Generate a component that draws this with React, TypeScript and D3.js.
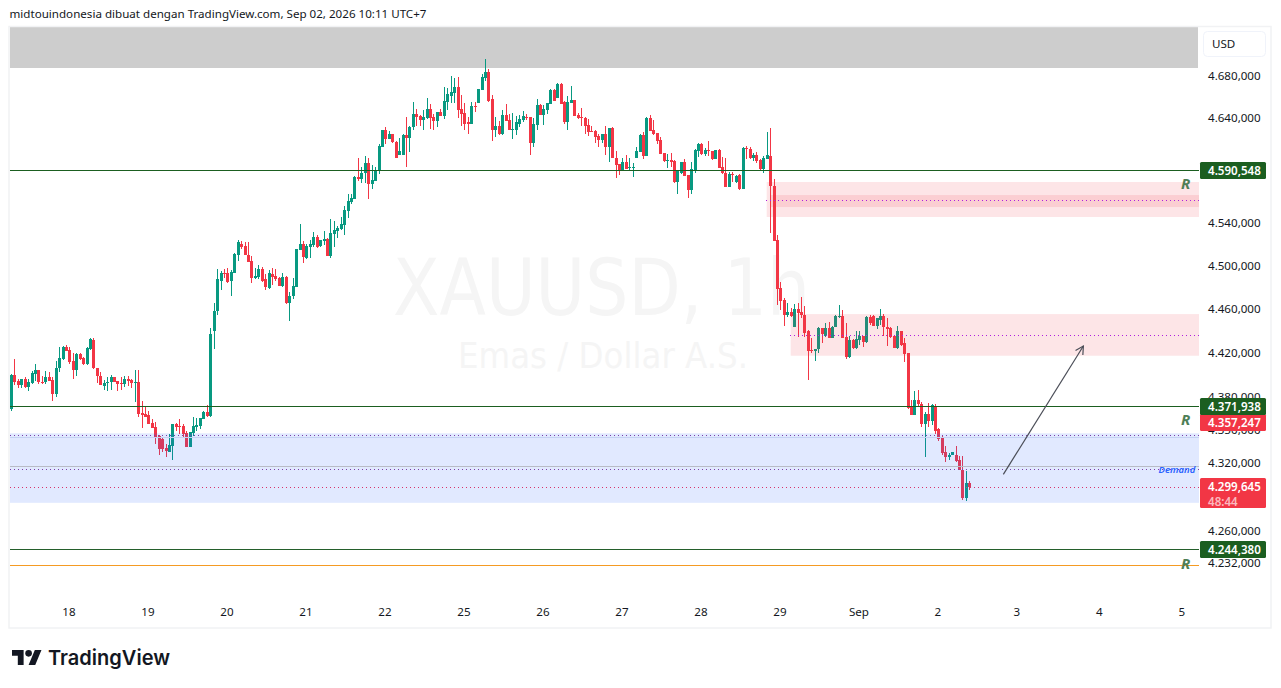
import { useEffect, useRef } from "react";
import * as d3 from "d3";

const WIDTH = 1281;
const HEIGHT = 688;
const UI_FONT = "'Noto Sans', sans-serif";

// Hourly XAUUSD candles
const opens = [
  4369, 4400, 4395, 4391, 4397, 4389, 4393, 4401, 4405, 4394,
  4394, 4398, 4396, 4383, 4407, 4415, 4426, 4423, 4413, 4405,
  4419, 4416, 4410, 4424, 4432, 4407, 4399, 4390, 4393, 4394,
  4398, 4394.5, 4393, 4392, 4397, 4396, 4393, 4394, 4366, 4365,
  4364, 4357, 4353, 4345, 4342, 4334, 4331, 4336, 4356, 4354,
  4354, 4348, 4335, 4348, 4353, 4354, 4360, 4367, 4363, 4440,
  4459, 4487, 4494, 4494, 4487, 4494, 4511, 4521, 4519, 4511,
  4505, 4489, 4490, 4498, 4488, 4480, 4493, 4491, 4489, 4482,
  4490, 4466, 4473, 4481, 4515, 4521, 4508, 4518, 4520, 4528,
  4519, 4524, 4526, 4510, 4530, 4533, 4535, 4539, 4552, 4560,
  4563, 4584, 4582, 4588, 4597, 4577, 4580, 4590, 4613, 4629,
  4620, 4625, 4617, 4605, 4605, 4624, 4621, 4632, 4644, 4642,
  4638, 4640, 4649, 4641, 4637, 4646, 4642, 4656, 4661, 4664,
  4670, 4649, 4645, 4636, 4635, 4652, 4655, 4667, 4679, 4685,
  4659, 4629, 4633, 4625, 4643, 4638, 4629.6, 4629, 4635, 4638,
  4641, 4641, 4616, 4634, 4653, 4643, 4648, 4654, 4667, 4660,
  4673, 4656, 4636, 4655, 4658, 4643, 4641, 4640, 4634, 4628,
  4628, 4623, 4619, 4625, 4613, 4631, 4602, 4596, 4590, 4598,
  4593, 4593, 4602, 4608, 4624, 4604, 4640, 4629, 4625.5, 4619,
  4607, 4599, 4600, 4599, 4579, 4588, 4598, 4586, 4572, 4590,
  4609, 4615, 4606, 4610, 4609, 4601, 4610, 4594, 4588, 4575,
  4587, 4579, 4586, 4573, 4612, 4611, 4602, 4605, 4600, 4592,
  4601, 4604, 4576, 4524.5, 4480, 4469, 4455, 4458, 4444.5, 4461,
  4458, 4455.5, 4440, 4423, 4422, 4424, 4443, 4436, 4443, 4434,
  4444, 4453, 4454.5, 4435, 4417, 4432, 4425, 4432, 4436, 4430,
  4453, 4454, 4445, 4451, 4454, 4444.5, 4443, 4436, 4425, 4440,
  4429, 4420, 4371, 4364, 4378, 4374, 4355.5, 4365, 4359, 4372.5,
  4351, 4343, 4331, 4326, 4328.5, 4328.5, 4324, 4315, 4290, 4303,
];
const highs = [
  4401, 4415, 4397, 4397, 4398, 4397, 4404, 4410, 4405, 4399,
  4404, 4403, 4398, 4413, 4426, 4427, 4428, 4426, 4420, 4420,
  4420, 4417, 4426, 4434, 4434, 4407, 4403, 4396, 4398, 4400,
  4398, 4395, 4398, 4399, 4399, 4397, 4405, 4405, 4377, 4372,
  4368, 4360, 4358, 4346, 4344, 4338, 4347, 4356, 4357, 4360,
  4356, 4350, 4349, 4362, 4361, 4361, 4368, 4373, 4443, 4466,
  4498, 4496, 4498, 4499, 4497, 4513, 4525, 4524, 4523, 4523,
  4510, 4499, 4501, 4500, 4493, 4497, 4499, 4498, 4490, 4494,
  4491, 4476, 4489, 4516, 4540, 4524, 4521, 4525, 4532, 4529,
  4525, 4533, 4527, 4544, 4543, 4538, 4546, 4557, 4568, 4568,
  4585, 4602, 4594, 4604, 4602, 4595, 4594, 4615, 4629, 4632,
  4628, 4625, 4618, 4621, 4625, 4641, 4633, 4656, 4649, 4643,
  4648, 4660, 4654, 4644, 4646, 4649, 4670, 4669, 4681, 4679,
  4680, 4662, 4655, 4641, 4656, 4656, 4668, 4683, 4697, 4688,
  4662, 4641, 4637, 4648, 4654, 4644, 4645, 4642, 4643, 4647,
  4644, 4641, 4640, 4659, 4654, 4653, 4655, 4668, 4668, 4674,
  4674, 4657, 4661, 4671, 4658, 4645, 4650, 4641, 4639, 4633,
  4629, 4625, 4625, 4633, 4631, 4632, 4609, 4596, 4602, 4605,
  4602, 4597, 4613, 4625, 4627, 4641, 4643, 4638, 4626, 4622,
  4607, 4606, 4607, 4600, 4590, 4598, 4601, 4586, 4598, 4611,
  4616, 4616, 4612, 4618, 4609, 4610, 4611, 4603, 4602, 4589,
  4589, 4586, 4587, 4613, 4614, 4613, 4607, 4608, 4601, 4604,
  4627, 4631, 4582.5, 4529, 4486, 4471, 4466, 4462, 4465, 4466,
  4472, 4463, 4441, 4434, 4424, 4444, 4443, 4448, 4449, 4445,
  4455, 4464, 4460, 4448, 4436, 4433, 4440, 4440, 4436, 4454,
  4455, 4455, 4452, 4461, 4456, 4452, 4444, 4436, 4445, 4440,
  4434, 4420, 4378, 4386, 4387, 4376, 4367, 4375, 4374, 4374,
  4352, 4345, 4336, 4330, 4331, 4336, 4327, 4327, 4314, 4304.5,
];
const lows = [
  4368, 4391, 4388, 4388, 4388, 4386, 4392, 4395, 4392, 4392,
  4392, 4395, 4377, 4380, 4403, 4414, 4422, 4410, 4397, 4399,
  4414, 4409, 4409, 4423, 4406, 4393, 4391, 4387, 4386, 4387,
  4394, 4386, 4387, 4389, 4390, 4388, 4376, 4362, 4352, 4362,
  4356, 4352, 4338, 4328, 4331, 4326, 4331, 4324, 4350, 4347,
  4343, 4335, 4335, 4345, 4350, 4351, 4360, 4362, 4362, 4424,
  4455, 4478, 4489, 4485, 4473, 4494, 4505, 4516, 4511, 4504,
  4485, 4488, 4488, 4486, 4478, 4479, 4483, 4487, 4482, 4481,
  4465, 4450, 4470, 4481, 4515, 4503, 4507, 4508, 4518, 4517,
  4518, 4520, 4510, 4508, 4518, 4527, 4534, 4529, 4545, 4559,
  4563, 4580, 4578, 4578, 4563, 4573, 4580, 4587, 4613, 4615,
  4620, 4616, 4602, 4605, 4605, 4594, 4608, 4629, 4633, 4633,
  4629, 4639, 4630, 4629, 4632, 4642, 4639, 4648, 4655, 4655,
  4640, 4633, 4629, 4625, 4635, 4646, 4655, 4667, 4676, 4656,
  4618, 4622, 4624, 4624, 4637, 4629, 4620, 4624, 4632, 4636,
  4638, 4605, 4613, 4629, 4643, 4634, 4644, 4654, 4657, 4660,
  4654, 4635, 4629, 4655, 4642, 4639, 4633, 4625, 4623, 4627,
  4616, 4613, 4616, 4605, 4598, 4602, 4583, 4586, 4590, 4592,
  4590, 4584, 4602, 4608, 4601, 4604, 4628, 4624, 4615, 4606,
  4598, 4593, 4594, 4578, 4568, 4587, 4585, 4564, 4568, 4588,
  4603, 4605, 4604, 4604, 4600, 4601, 4593, 4587, 4575, 4575,
  4579, 4578, 4572, 4573, 4601, 4601, 4599, 4597, 4591, 4588,
  4601, 4531, 4524, 4464, 4460, 4445, 4453, 4453, 4444.5, 4435,
  4452, 4435, 4396, 4420, 4413, 4420, 4429, 4435, 4434, 4434,
  4444, 4452, 4434, 4415, 4416, 4424, 4424, 4428, 4426, 4429,
  4446, 4445, 4442, 4446, 4436, 4427, 4434, 4425, 4424, 4427,
  4412, 4369, 4364, 4364, 4372, 4353, 4326, 4353, 4355, 4347,
  4341, 4328, 4322, 4324, 4328.5, 4322, 4315, 4288, 4287, 4297,
];
const closes = [
  4400, 4394, 4391, 4397, 4389, 4394, 4402, 4405, 4394, 4393.4,
  4398, 4395, 4383, 4407, 4416, 4426, 4422, 4412, 4405, 4419,
  4415, 4410, 4425, 4433, 4407, 4399, 4391, 4393, 4394, 4398,
  4394, 4392, 4392, 4397, 4395, 4393, 4394, 4365, 4364, 4362,
  4356, 4352, 4344, 4333, 4333, 4332, 4337, 4356, 4353, 4353,
  4347, 4335, 4349, 4354, 4355, 4361, 4367, 4363, 4438, 4459,
  4488, 4494, 4493, 4486, 4495, 4512, 4523, 4518, 4511, 4504,
  4489, 4491, 4498, 4487, 4481, 4494, 4490, 4488, 4482, 4490,
  4466, 4473, 4482, 4516, 4521, 4509, 4519, 4521, 4528, 4518,
  4525, 4526, 4510, 4531, 4534, 4536, 4540, 4553, 4561, 4564,
  4584, 4582, 4588, 4597, 4577, 4581, 4591, 4614, 4629, 4620,
  4625, 4617, 4602, 4609, 4624, 4621, 4632, 4644, 4641, 4638,
  4641, 4649, 4640, 4637, 4646, 4642, 4657, 4663, 4665, 4670,
  4648, 4644, 4635, 4635, 4652, 4651, 4668, 4680, 4685, 4657,
  4629, 4633, 4625, 4643, 4637, 4629, 4630, 4636, 4639, 4642,
  4640, 4616, 4635, 4653, 4643, 4649, 4655, 4667, 4657, 4673,
  4654, 4636, 4656, 4658, 4642, 4640, 4640, 4633, 4627, 4627,
  4622, 4619, 4625, 4613, 4631, 4602, 4595, 4590, 4598, 4592,
  4594, 4594, 4609, 4624, 4604, 4640, 4628, 4625, 4618, 4606,
  4599, 4600, 4598, 4579, 4590, 4598, 4585, 4572, 4592, 4610,
  4615, 4606, 4610, 4609, 4601, 4610, 4593, 4588, 4575, 4587,
  4586, 4585, 4573, 4612, 4611, 4602, 4605, 4599, 4592, 4602,
  4605, 4576, 4524, 4479, 4468, 4455, 4458, 4454, 4461, 4457,
  4455, 4439, 4422, 4422, 4424, 4443, 4438, 4443, 4434, 4444,
  4454, 4454.5, 4434, 4417, 4432, 4425, 4433, 4436, 4430, 4453,
  4448, 4445, 4452, 4454, 4444, 4442, 4435, 4425, 4440, 4428,
  4419, 4370, 4364, 4378, 4373.5, 4355.5, 4365, 4359, 4373, 4350,
  4342, 4330, 4326, 4328, 4331, 4323, 4315, 4290, 4303, 4299.6,
];

// Axis ticks
const priceTicks = [4680, 4640, 4540, 4500, 4460, 4420, 4380, 4350, 4320, 4260, 4232];
const dayBars = [17, 40, 63, 86, 109, 132, 155, 178, 201, 224, 247, 270, 293, 317, 341];
const dayLabels = ["18", "19", "20", "21", "22", "25", "26", "27", "28", "29", "Sep", "2", "3", "4", "5"];

// Levels and drawings, in price / bar units
const levels = [4590.548, 4371.938, 4244.38];
const orangeLevel = 4230.4;
const lastPrice = 4299.645;
const bidPrice = 4357.247;
const rBaselines = [4572.7, 4355, 4227.7];
const zoneBars = [220, 221, 227];
const upperZone = [4579.3, 4546.3];
const upperZoneCore = [4567, 4555.7];
const upperZoneMid = 4561.9;
const lowerZone = [4456, 4417.8];
const lowerZoneMid = 4437.2;
const demandZone = [4347.5, 4285.5];
const demandEdges = [4344.1, 4318.5];
const demandMids = [4345.6, 4315.6];
const arrowBars = [288.9, 312.2];
const arrowPrices = [4310.8, 4426.7];

const GREEN = "#089981";
const RED = "#f23645";
const LEVEL_GREEN = "#1b5e20";
const PLOT_LEFT = 10;
const PLOT_RIGHT = 1199;

const App: React.FC = () => {
  const svgRef = useRef<SVGSVGElement | null>(null);

  useEffect(() => {
    if (!svgRef.current) return;
    const svg = d3.select(svgRef.current);
    svg.selectAll("*").remove();

    const x = d3.scaleLinear().domain([0, 341]).range([11, 1182.3]);
    const y = d3.scaleLog().domain([4680, 4232]).range([76.8, 563.6]);
    const snap = (v: number) => Math.round(v) + 0.5;
    const priceText = (v: number) =>
      d3.format(",.3f")(v).replace(/[,.]/g, (c) => (c === "," ? "." : ","));

    svg.append("clipPath").attr("id", "plot")
      .append("rect").attr("x", PLOT_LEFT).attr("y", 27)
      .attr("width", PLOT_RIGHT - PLOT_LEFT).attr("height", 600);

    svg.append("rect").attr("width", WIDTH).attr("height", HEIGHT).attr("fill", "#fff");

    // Title
    svg.append("text").attr("x", 9.5).attr("y", 18)
      .attr("font-family", UI_FONT).attr("font-size", 11.6).attr("fill", "#131722")
      .text("midtouindonesia dibuat dengan TradingView.com, Sep 02, 2026 10:11 UTC+7");

    // Grey band on top of the pane
    svg.append("rect").attr("x", PLOT_LEFT).attr("y", 27)
      .attr("width", PLOT_RIGHT - PLOT_LEFT - 1).attr("height", 41).attr("fill", "#cdcdcd");

    // Watermark
    svg.append("text").attr("x", 393).attr("y", 315)
      .attr("font-family", "'DejaVu Sans', sans-serif").attr("font-size", 78).attr("fill", "#f5f5f5")
      .attr("textLength", 417).attr("lengthAdjust", "spacingAndGlyphs")
      .text("XAUUSD, 1h");
    svg.append("text").attr("x", 458).attr("y", 368)
      .attr("font-family", "'DejaVu Sans', sans-serif").attr("font-size", 35).attr("fill", "#f5f5f5")
      .attr("textLength", 290).attr("lengthAdjust", "spacingAndGlyphs")
      .text("Emas / Dollar A.S.");

    // Candles
    const plot = svg.append("g").attr("clip-path", "url(#plot)");
    const bars = d3.range(opens.length);
    const colour = (i: number) => (closes[i] >= opens[i] ? GREEN : RED);

    plot.selectAll(".wick").data(bars).enter().append("rect")
      .attr("class", "wick")
      .attr("x", (i) => Math.round(x(i)))
      .attr("y", (i) => y(highs[i]))
      .attr("width", 1)
      .attr("height", (i) => y(lows[i]) - y(highs[i]))
      .attr("fill", colour)
      .attr("shape-rendering", "crispEdges");

    plot.selectAll(".body").data(bars).enter().append("rect")
      .attr("class", "body")
      .attr("x", (i) => Math.round(x(i)) - 1)
      .attr("y", (i) => y(Math.max(opens[i], closes[i])))
      .attr("width", 3)
      .attr("height", (i) => Math.max(1, Math.abs(y(opens[i]) - y(closes[i]))))
      .attr("fill", colour)
      .attr("shape-rendering", "crispEdges");

    // Zones sit over the candles
    const zone = (x0: number, prices: number[], fill: string) =>
      plot.append("rect").attr("x", x0).attr("y", y(prices[0]))
        .attr("width", PLOT_RIGHT - x0).attr("height", y(prices[1]) - y(prices[0]))
        .attr("fill", fill);
    const pink = "rgba(242,54,69,0.13)";
    zone(x(zoneBars[0]), upperZone, pink);
    zone(x(zoneBars[1]), upperZoneCore, pink);
    zone(x(zoneBars[2]), lowerZone, pink);
    zone(PLOT_LEFT, demandZone, "rgba(41,98,255,0.14)");

    const hline = (x0: number, price: number, stroke: string, dash?: string) => {
      const line = plot.append("line")
        .attr("x1", Math.round(x0)).attr("x2", PLOT_RIGHT)
        .attr("y1", snap(y(price))).attr("y2", snap(y(price)))
        .attr("stroke", stroke).attr("stroke-width", 1)
        .attr("shape-rendering", "crispEdges");
      if (dash) line.attr("stroke-dasharray", dash);
    };

    demandEdges.forEach((p, i) => hline(PLOT_LEFT, p, i === 0 ? "#c5d2f3" : "#b9bcc6"));
    demandMids.forEach((p) => hline(PLOT_LEFT, p, "#7a3fa8", "1 3"));
    hline(x(zoneBars[0]) - 1, upperZoneMid, "#b01ee0", "1 3");
    hline(x(zoneBars[2]) - 1, lowerZoneMid, "#b01ee0", "1 3");
    hline(PLOT_LEFT, lastPrice, "#d8336a", "1 3");
    hline(PLOT_LEFT, levels[0], LEVEL_GREEN);
    hline(PLOT_LEFT, levels[1], LEVEL_GREEN);
    hline(PLOT_LEFT, levels[2], "#245f2b");
    hline(PLOT_LEFT, orangeLevel, "#f59b23");

    // Arrow
    const ax0 = x(arrowBars[0]);
    const ay0 = y(arrowPrices[0]);
    const ax1 = x(arrowBars[1]);
    const ay1 = y(arrowPrices[1]);
    const angle = Math.atan2(ay1 - ay0, ax1 - ax0);
    const head = (a: number) => [ax1 - 9 * Math.cos(angle + a), ay1 - 9 * Math.sin(angle + a)];
    const arrowLine = d3.line();
    svg.append("path")
      .attr("d", arrowLine([[ax0, ay0], [ax1, ay1]]))
      .attr("stroke", "#4a4d57").attr("stroke-width", 1.2).attr("fill", "none");
    svg.append("path")
      .attr("d", arrowLine([head(0.5) as [number, number], [ax1, ay1], head(-0.5) as [number, number]]))
      .attr("stroke", "#4a4d57").attr("stroke-width", 1.2).attr("fill", "none");

    // Demand and R texts
    svg.append("text").attr("x", 1158.5).attr("y", 472.5)
      .attr("font-family", UI_FONT).attr("font-size", 9.5).attr("font-style", "italic")
      .attr("font-weight", 600).attr("fill", "#2962ff").text("Demand");
    svg.selectAll(".r-label").data(rBaselines).enter().append("text")
      .attr("class", "r-label")
      .attr("x", 1181).attr("y", (d) => y(d))
      .attr("font-family", UI_FONT).attr("font-size", 15).attr("font-weight", 700)
      .attr("font-style", "italic").attr("fill", "#4f7f57").text("R");

    // Price axis
    const priceAxis = svg.append("g")
      .attr("transform", `translate(${PLOT_RIGHT},-1)`)
      .call(d3.axisRight(y).tickValues(priceTicks).tickSize(0).tickPadding(9)
        .tickFormat((d) => priceText(d as number)));
    priceAxis.select(".domain").remove();
    priceAxis.selectAll("text")
      .attr("font-family", UI_FONT).attr("font-size", 11.6).attr("fill", "#131722");

    // Day axis
    const dayAxis = svg.append("g")
      .attr("transform", "translate(-1,605)")
      .call(d3.axisBottom(x).tickValues(dayBars).tickSize(0).tickPadding(3)
        .tickFormat((_, i) => dayLabels[i]));
    dayAxis.select(".domain").remove();
    dayAxis.selectAll("text")
      .attr("font-family", UI_FONT).attr("font-size", 11.6).attr("fill", "#131722");

    // Price tags
    const tag = (price: number, fill: string, rows: string[], h: number) => {
      const top = y(price) - 8.5;
      svg.append("rect").attr("x", 1200).attr("y", Math.round(top))
        .attr("width", 66).attr("height", h).attr("rx", 1.5).attr("fill", fill);
      rows.forEach((row, i) => {
        svg.append("text").attr("x", 1208).attr("y", Math.round(top) + 12.5 + i * 15)
          .attr("font-family", UI_FONT).attr("font-size", 11.6).attr("font-weight", 600)
          .attr("fill", i === 0 ? "#fff" : "#fbb9bf").text(row);
      });
    };
    tag(levels[0], LEVEL_GREEN, [priceText(levels[0])], 17);
    tag(bidPrice, RED, [priceText(bidPrice)], 17);
    tag(levels[1], LEVEL_GREEN, [priceText(levels[1])], 17);
    tag(lastPrice, RED, [priceText(lastPrice), "48:44"], 30);
    tag(levels[2], LEVEL_GREEN, [priceText(levels[2])], 17);

    // Currency button
    svg.append("rect").attr("x", 1203.5).attr("y", 31.5).attr("width", 62).attr("height", 25)
      .attr("rx", 4).attr("fill", "#fff").attr("stroke", "#f0f3fa");
    svg.append("text").attr("x", 1212).attr("y", 48)
      .attr("font-family", UI_FONT).attr("font-size", 11.6).attr("fill", "#131722").text("USD");

    // Frame
    svg.append("rect").attr("x", 9).attr("y", 26.5).attr("width", 1262).attr("height", 601.5)
      .attr("fill", "none").attr("stroke", "#f1f2f4").attr("stroke-width", 1.5);

    // TradingView logo
    const logo = svg.append("g").attr("transform", "translate(12,646.7) scale(0.83)").attr("fill", "#131722");
    logo.append("path").attr("d", "M14 22H7V11H0V4h14v18zM28 22h-8l7.5-18h8L28 22z");
    logo.append("circle").attr("cx", 20).attr("cy", 8).attr("r", 4);
    svg.append("text").attr("x", 48).attr("y", 665)
      .attr("font-family", "Inter, sans-serif").attr("font-size", 20.5).attr("font-weight", 600)
      .attr("fill", "#131722").attr("textLength", 122).attr("lengthAdjust", "spacingAndGlyphs")
      .text("TradingView");
  }, []);

  return (
    <svg
      ref={svgRef}
      width={WIDTH}
      height={HEIGHT}
      style={{ position: "absolute", left: 0, top: 0, display: "block" }}
    />
  );
};

export default App;
